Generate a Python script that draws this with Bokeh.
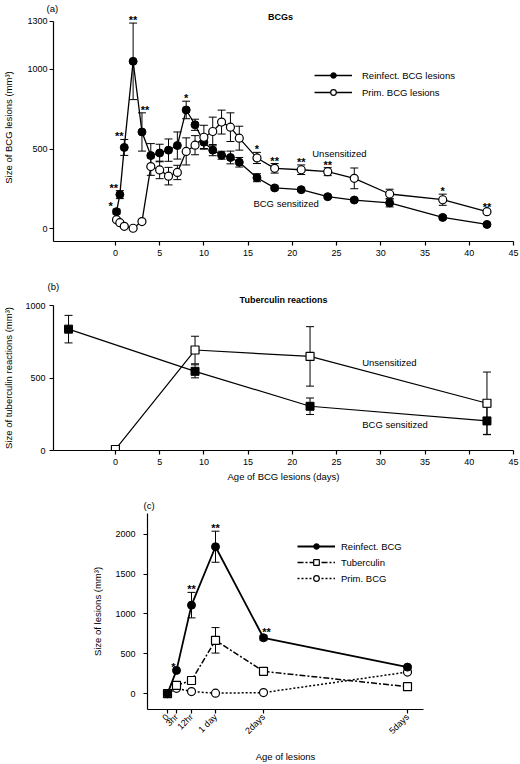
import math
from bokeh.plotting import figure
from bokeh.models import (ColumnDataSource, Whisker, TeeHead, Label, LabelSet, Legend,
                          LegendItem, FixedTicker, Range1d, Title)
from bokeh.core.properties import value
from bokeh.embed import file_html
from bokeh.resources import INLINE

FONT = "Liberation Sans"

# ---------------- panel (a): BCG lesions ----------------
a_days = [0.125, 0.5, 1, 2, 3, 4, 5, 6, 7, 8, 9, 10, 11, 12, 13, 14, 16, 18, 21, 24, 27, 31, 37, 42]
a_reinf = [107, 214, 510, 1050, 607, 459, 475, 493, 522, 745, 652, 543, 493, 461, 447, 417,
           320, 256, 245, 201, 180, 162, 71, 27]
a_reinf_err = [15, 25, 50, 240, 120, 75, 55, 70, 85, 55, 35, 40, 35, 25, 40, 30,
               25, 12, 10, 10, 10, 25, 10, 8]
a_prim = [57, 38, 15, 3, 45, 390, 369, 330, 353, 485, 524, 574, 610, 669, 637, 568,
          444, 379, 370, 358, 316, 218, 182, 107]
a_prim_err = [10, 10, 8, 8, 10, 55, 55, 55, 45, 85, 60, 75, 90, 75, 90, 75,
              35, 30, 30, 25, 65, 30, 35, 10]
a_star_x = [0.125, 0.5, 1, 2, 3, 8, 16, 18, 21, 24, 37, 42]
a_star_text = ["*", "**", "**", "**", "**", "*", "*", "**", "**", "**", "*", "**"]
a_star_series = ["reinf"] * 6 + ["prim"] * 6
a_star_dx = [-6, -6, -5, 0, 3, 0, 0, 0, 0, 0, 0, 0]
a_xticks = [0, 5, 10, 15, 20, 25, 30, 35, 40, 45]
a_yticks = [0, 500, 1000, 1300]

# ---------------- panel (b): tuberculin reactions ----------------
b_days_sens = [-5.3, 9, 22, 42]
b_sens = [837, 546, 305, 204]
b_sens_err = [95, 45, 57, 95]
b_days_unsens = [0, 9, 22, 42]
b_unsens = [7, 693, 649, 326]
b_unsens_err = [0, 95, 205, 215]
b_yticks = [0, 500, 1000]

# ---------------- panel (c): early lesions ----------------
c_hours = [0, 4.5, 12, 24, 48, 120]
c_tick_labels = ["0", "3hr", "12hr", "1 day", "2days", "5days"]
c_reinf = [0, 291, 1110, 1843, 700, 332]
c_reinf_err = [0, 0, 160, 195, 30, 20]
c_tuber = [0, 103, 164, 668, 279, 86]
c_tuber_err = [0, 0, 25, 160, 25, 0]
c_prim = [0, 66, 25, 5, 12, 270]
c_star_x = [4.5, 12, 24, 48]
c_star_text = ["*", "**", "**", "**"]
c_star_dx = [-3, 0, 0, 3]
c_yticks = [0, 500, 1000, 1500, 2000]


def make_fig(w, h, xr, yr, left, right, top, bottom):
    p = figure(width=w, height=h, x_range=Range1d(*xr), y_range=Range1d(*yr),
               output_backend="svg", toolbar_location=None, title=None,
               min_border_left=left, min_border_right=right,
               min_border_top=top, min_border_bottom=bottom)
    p.xgrid.visible = False
    p.ygrid.visible = False
    p.outline_line_color = None
    for ax in p.axis:
        ax.axis_line_color = "black"
        ax.axis_line_width = 1.2
        ax.major_tick_line_color = "black"
        ax.major_tick_line_width = 1.2
        ax.major_tick_in = 0
        ax.major_tick_out = 4
        ax.minor_tick_line_color = None
        ax.major_label_text_font = FONT
        ax.major_label_text_font_size = "9px"
        ax.major_label_text_color = "black"
        ax.axis_label_text_font = FONT
        ax.axis_label_text_font_size = "9.5px"
        ax.axis_label_text_font_style = "normal"
        ax.axis_label_text_color = "black"
    return p


def add_err(p, xs, ys, errs, head=8):
    keep = [i for i, e in enumerate(errs) if e > 0]
    src = ColumnDataSource(dict(x=[xs[i] for i in keep],
                                lo=[ys[i] - errs[i] for i in keep],
                                hi=[ys[i] + errs[i] for i in keep]))
    w = Whisker(source=src, base="x", lower="lo", upper="hi", dimension="height",
                line_color="black", line_width=1,
                lower_head=TeeHead(size=head, line_color="black", line_width=1),
                upper_head=TeeHead(size=head, line_color="black", line_width=1),
                level="underlay")
    p.add_layout(w)


def add_label(p, x, y, text, align="left", bold=False, size="9.5px"):
    p.add_layout(Label(x=x, y=y, text=text, text_font=FONT, text_font_size=size,
                       text_align=align, text_baseline="middle",
                       text_font_style="bold" if bold else "normal", text_color="black"))


def add_title(p, text, align, offset, standoff, bold=False, size="9.5px"):
    p.add_layout(Title(text=text, align=align, offset=offset, standoff=standoff,
                       text_font=FONT, text_font_size=size, text_color="black",
                       text_font_style="bold" if bold else "normal"), "above")


def add_stars(p, xs, ys, texts, dxs):
    src = ColumnDataSource(dict(x=xs, y=ys, t=texts, dx=dxs))
    p.add_layout(LabelSet(x="x", y="y", text="t", source=src, x_offset="dx", y_offset=3,
                          text_font=value(FONT), text_font_size=value("11px"),
                          text_font_style="bold", text_align="center",
                          text_baseline="middle", text_color=value("black")))


# ======================= panel (a) =======================
pa = make_fig(520, 270, (-7, 45), (-80, 1350), 53, 7, 13, 29)
pa.xaxis.ticker = FixedTicker(ticks=a_xticks)
pa.yaxis.ticker = FixedTicker(ticks=a_yticks)
pa.yaxis.bounds = (-80, 1300)
pa.yaxis.axis_label = "Size of BCG lesions (mm³)"
pa.yaxis.major_label_standoff = 2
pa.yaxis.axis_label_standoff = 10
pa.xaxis.major_label_standoff = 4

add_err(pa, a_days, a_reinf, a_reinf_err)
add_err(pa, a_days, a_prim, a_prim_err)
la1 = pa.line(a_days, a_reinf, line_color="black", line_width=1.3)
la2 = pa.line(a_days, a_prim, line_color="black", line_width=1.3)
ma1 = pa.scatter(a_days, a_reinf, marker="circle", size=8, fill_color="black", line_color="black")
ma2 = pa.scatter(a_days, a_prim, marker="circle", size=8, fill_color="white", line_color="black",
                 line_width=1.2)

a_lookup = {"reinf": (a_reinf, a_reinf_err), "prim": (a_prim, a_prim_err)}
a_star_y = []
for xv, s in zip(a_star_x, a_star_series):
    vals, errs = a_lookup[s]
    i = a_days.index(xv)
    a_star_y.append(vals[i] + errs[i])
add_stars(pa, a_star_x, a_star_y, a_star_text, a_star_dx)

leg_a = Legend(items=[LegendItem(label="Reinfect. BCG lesions", renderers=[la1, ma1]),
                      LegendItem(label="Prim. BCG lesions", renderers=[la2, ma2])],
               location=(261, 142), border_line_color=None, background_fill_alpha=0,
               glyph_width=38, glyph_height=14, label_height=14, spacing=3, padding=0,
               margin=0, label_standoff=10, label_text_font=FONT,
               label_text_font_size="9.5px", label_text_color="black")
pa.add_layout(leg_a)

add_label(pa, 22.25, 474, "Unsensitized")
add_label(pa, 15.6, 158, "BCG sensitized")
add_label(pa, 18.66, 1327, "BCGs", align="center", bold=True, size="9px")
add_title(pa, "(a)", "left", -7, 0)

# ======================= panel (b) =======================
pb = make_fig(520, 215, (-7, 45), (0, 1000), 53, 7, 35, 35)
pb.xaxis.ticker = FixedTicker(ticks=a_xticks)
pb.yaxis.ticker = FixedTicker(ticks=b_yticks)
pb.yaxis.axis_label = "Size of tuberculin reactions (mm³)"
pb.xaxis.axis_label = "Age of BCG lesions (days)"
pb.yaxis.major_label_standoff = 4
pb.yaxis.axis_label_standoff = 8
pb.xaxis.major_label_standoff = 4
pb.xaxis.axis_label_standoff = 3

add_err(pb, b_days_sens, b_sens, b_sens_err)
add_err(pb, b_days_unsens, b_unsens, b_unsens_err)
pb.line(b_days_sens, b_sens, line_color="black", line_width=1.2)
pb.line(b_days_unsens, b_unsens, line_color="black", line_width=1.2)
pb.scatter(b_days_sens, b_sens, marker="square", size=8, fill_color="black", line_color="black")
pb.scatter(b_days_unsens, b_unsens, marker="square", size=8, fill_color="white",
           line_color="black", line_width=1.2)

add_label(pb, 27.9, 609, "Unsensitized")
add_label(pb, 27.9, 177, "BCG sensitized")
add_title(pb, "Tuberculin reactions", "center", -3, 2, bold=True, size="9px")
add_title(pb, "(b)", "left", -6, 0)

# ======================= panel (c) =======================
pc = make_fig(520, 279, (-10, 128), (-200, 2260), 147, 97, 28, 51)
pc.xaxis.ticker = FixedTicker(ticks=c_hours)
pc.xaxis.major_label_overrides = {k: v for k, v in zip(c_hours, c_tick_labels)}
pc.xaxis.major_label_orientation = math.pi / 4
pc.xaxis.major_label_standoff = 2
pc.xaxis.axis_label = "Age of lesions"
pc.xaxis.axis_label_standoff = 8
pc.yaxis.ticker = FixedTicker(ticks=c_yticks)
pc.yaxis.axis_label = "Size of lesions (mm³)"
pc.yaxis.major_label_standoff = 8
pc.yaxis.axis_label_standoff = 9

add_err(pc, c_hours, c_reinf, c_reinf_err)
add_err(pc, c_hours, c_tuber, c_tuber_err)
lc1 = pc.line(c_hours, c_reinf, line_color="black", line_width=1.8)
lc2 = pc.line(c_hours, c_tuber, line_color="black", line_width=1.5, line_dash="6 2 2 2")
lc3 = pc.line(c_hours, c_prim, line_color="black", line_width=1.5, line_dash="2 2")
mc3 = pc.scatter(c_hours, c_prim, marker="circle", size=8, fill_color="white", line_color="black",
                 line_width=1.2)
mc2 = pc.scatter(c_hours, c_tuber, marker="square", size=8, fill_color="white", line_color="black",
                 line_width=1.2)
mc1 = pc.scatter(c_hours, c_reinf, marker="circle", size=8, fill_color="black", line_color="black")

c_star_y = []
for xv in c_star_x:
    i = c_hours.index(xv)
    c_star_y.append(c_reinf[i] + c_reinf_err[i])
add_stars(pc, c_star_x, c_star_y, c_star_text, c_star_dx)

leg_c = Legend(items=[LegendItem(label="Reinfect. BCG", renderers=[lc1, mc1]),
                      LegendItem(label="Tuberculin", renderers=[lc2, mc2]),
                      LegendItem(label="Prim. BCG", renderers=[lc3, mc3])],
               location=(150, 124), border_line_color=None, background_fill_alpha=0,
               glyph_width=38, glyph_height=14, label_height=14, spacing=2, padding=0,
               margin=0, label_standoff=6, label_text_font=FONT,
               label_text_font_size="9.5px", label_text_color="black")
pc.add_layout(leg_c)

add_title(pc, "(c)", "left", -4, 5)

open("out.html", "w").write(file_html([pa, pb, pc], INLINE))
